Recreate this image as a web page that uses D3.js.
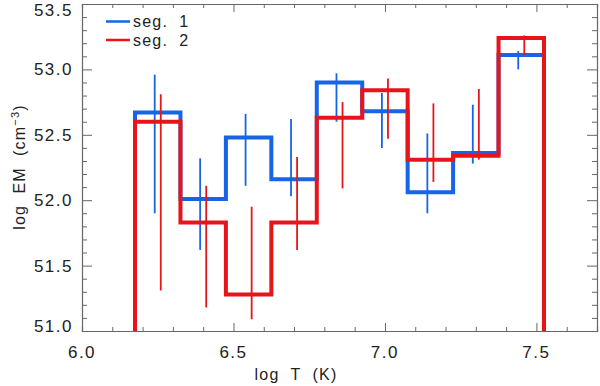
<html lang="en">
<head>
<script src="https://d3js.org/d3.v7.min.js"></script>
<style>
  body { margin: 0; background: #fff; }
  text { font-family: 'Liberation Sans', Arial, sans-serif; }
</style>
</head>
<body>
<script>
// bin edges in log T
var edges = [6.175, 6.325, 6.475, 6.625, 6.775, 6.925, 7.075, 7.225, 7.375, 7.525];
var centers = [6.25, 6.40, 6.55, 6.70, 6.85, 7.00, 7.15, 7.30, 7.45];

// seg. 1 (blue)
var seg1 = [52.67, 52.01, 52.48, 52.16, 52.90, 52.68, 52.06, 52.36, 53.11];
var seg1Lo = [51.90, 51.62, 52.11, 52.03, 52.60, 52.40, 51.90, 52.28, 53.00];
var seg1Hi = [52.96, 52.32, 52.66, 52.62, 52.97, 52.82, 52.51, 52.73, 53.14];

// seg. 2 (red)
var seg2 = [52.60, 51.83, 51.28, 51.83, 52.63, 52.84, 52.31, 52.34, 53.24];
var seg2Lo = [51.31, 51.18, 51.09, 51.62, 52.09, 52.47, 52.14, 52.31, 53.11];
var seg2Hi = [52.81, 52.11, 51.95, 52.33, 52.75, 52.93, 52.74, 52.85, 53.26];

var xTicks = [6.0, 6.5, 7.0, 7.5];
var yTicks = [51.0, 51.5, 52.0, 52.5, 53.0, 53.5];

var width = 600, height = 386;
var m = {left: 82, right: 3, top: 4, bottom: 55};

var svg = d3.select("body").append("svg")
    .attr("width", width)
    .attr("height", height);

var x = d3.scaleLinear().domain([6.0, 7.7]).range([m.left, width - m.right]);
var y = d3.scaleLinear().domain([51.0, 53.5]).range([height - m.bottom, m.top]);

svg.append("clipPath").attr("id", "plot")
  .append("rect")
    .attr("x", x(6.0)).attr("y", y(53.5))
    .attr("width", x(7.7) - x(6.0)).attr("height", y(51.0) - y(53.5));

var series = [
  {name: "seg.  1", color: "#1565e6", v: seg1, lo: seg1Lo, hi: seg1Hi, off: -0.01},
  {name: "seg.  2", color: "#e8141c", v: seg2, lo: seg2Lo, hi: seg2Hi, off: 0.01}
];

var line = d3.line().x(function(d) { return x(d[0]) }).y(function(d) { return y(d[1]) });

var g = svg.append("g").attr("clip-path", "url(#plot)");

series.forEach(function(s) {
  var pts = [[edges[0], 51.0]];
  s.v.forEach(function(v, i) {
    pts.push([edges[i], v]);
    pts.push([edges[i + 1], v]);
  });
  pts.push([edges[edges.length - 1], 51.0]);

  g.append("path")
    .attr("d", line(pts))
    .attr("fill", "none")
    .attr("stroke", s.color)
    .attr("stroke-width", 4)
    .attr("stroke-linejoin", "miter");

  g.selectAll(null)
    .data(centers)
    .enter().append("line")
    .attr("x1", function(d) { return x(d + s.off) })
    .attr("x2", function(d) { return x(d + s.off) })
    .attr("y1", function(d, i) { return y(s.lo[i]) })
    .attr("y2", function(d, i) { return y(s.hi[i]) })
    .attr("stroke", s.color)
    .attr("stroke-width", 1.8);
});

// axes box with ticks on all sides
var axisColor = "#666";
function minorTicks(a, b, step) {
  var out = [];
  for (var t = a; t <= b + 1e-9; t += step) out.push(+t.toFixed(2));
  return out;
}
var xMinor = minorTicks(6.0, 7.7, 0.1);
var yMinor = minorTicks(51.0, 53.5, 0.1);

var bottomAxis = svg.append("g")
  .attr("transform", "translate(0," + y(51.0) + ")")
  .call(d3.axisBottom(x).tickValues(xMinor).tickSize(-4).tickFormat(""));
var topAxis = svg.append("g")
  .attr("transform", "translate(0," + y(53.5) + ")")
  .call(d3.axisTop(x).tickValues(xMinor).tickSize(-4).tickFormat(""));
var leftAxis = svg.append("g")
  .attr("transform", "translate(" + x(6.0) + ",0)")
  .call(d3.axisLeft(y).tickValues(yMinor).tickSize(-5).tickFormat(""));
var rightAxis = svg.append("g")
  .attr("transform", "translate(" + x(7.7) + ",0)")
  .call(d3.axisRight(y).tickValues(yMinor).tickSize(-5).tickFormat(""));

[bottomAxis, topAxis].forEach(function(a) {
  a.selectAll(".tick line").attr("y2", function(d) {
    var len = xTicks.some(function(t) { return Math.abs(t - d) < 1e-6 }) ? 8 : 4;
    return a === bottomAxis ? -len : len;
  });
});
[leftAxis, rightAxis].forEach(function(a) {
  a.selectAll(".tick line").attr("x2", function(d) {
    var len = yTicks.some(function(t) { return Math.abs(t - d) < 1e-6 }) ? 10 : 5;
    return a === leftAxis ? len : -len;
  });
});
svg.selectAll(".domain").attr("stroke", axisColor).attr("stroke-width", 1.2);
svg.selectAll(".tick line").attr("stroke", axisColor).attr("stroke-width", 1);

// tick labels
svg.selectAll(".xlab")
  .data(xTicks)
  .enter().append("text")
  .attr("class", "xlab")
  .attr("x", function(d) { return x(d) })
  .attr("y", y(51.0) + 27)
  .attr("text-anchor", "middle")
  .attr("font-size", 17)
  .attr("letter-spacing", 1.5)
  .attr("fill", "#222")
  .text(function(d) { return d3.format(".1f")(d) });

svg.selectAll(".ylab")
  .data(yTicks)
  .enter().append("text")
  .attr("class", "ylab")
  .attr("x", x(6.0) - 9)
  .attr("y", function(d) {
    if (d === 53.5) return y(d) + 12;
    if (d === 51.0) return y(d) + 1;
    return y(d) + 6;
  })
  .attr("text-anchor", "end")
  .attr("font-size", 17)
  .attr("letter-spacing", 1.5)
  .attr("fill", "#222")
  .text(function(d) { return d3.format(".1f")(d) });

// axis titles
svg.append("text")
  .attr("x", 296)
  .attr("y", 380)
  .attr("text-anchor", "middle")
  .attr("font-size", 16)
  .attr("letter-spacing", 1.2)
  .attr("fill", "#222")
  .style("white-space", "pre")
  .text("log  T  (K)");

var yt = svg.append("text")
  .attr("transform", "translate(25," + 167 + ") rotate(-90)")
  .attr("text-anchor", "middle")
  .attr("font-size", 16)
  .attr("letter-spacing", 1.2)
  .attr("fill", "#222")
  .style("white-space", "pre");
yt.append("tspan").text("log  EM  (cm");
yt.append("tspan").attr("font-size", 11).attr("dy", -6).text("\u22123");
yt.append("tspan").attr("dy", 6).text(")");

// legend
var leg = svg.selectAll(".leg")
  .data(series)
  .enter().append("g")
  .attr("transform", function(d, i) { return "translate(106," + (21.5 + i * 18.5) + ")" });
leg.append("line")
  .attr("x1", 0).attr("x2", 24)
  .attr("stroke", function(d) { return d.color })
  .attr("stroke-width", 2.5);
leg.append("text")
  .attr("x", 27)
  .attr("y", 5.5)
  .attr("font-size", 16)
  .attr("letter-spacing", 1.2)
  .attr("fill", "#222")
  .style("white-space", "pre")
  .text(function(d) { return d.name });
</script>
</body>
</html>
